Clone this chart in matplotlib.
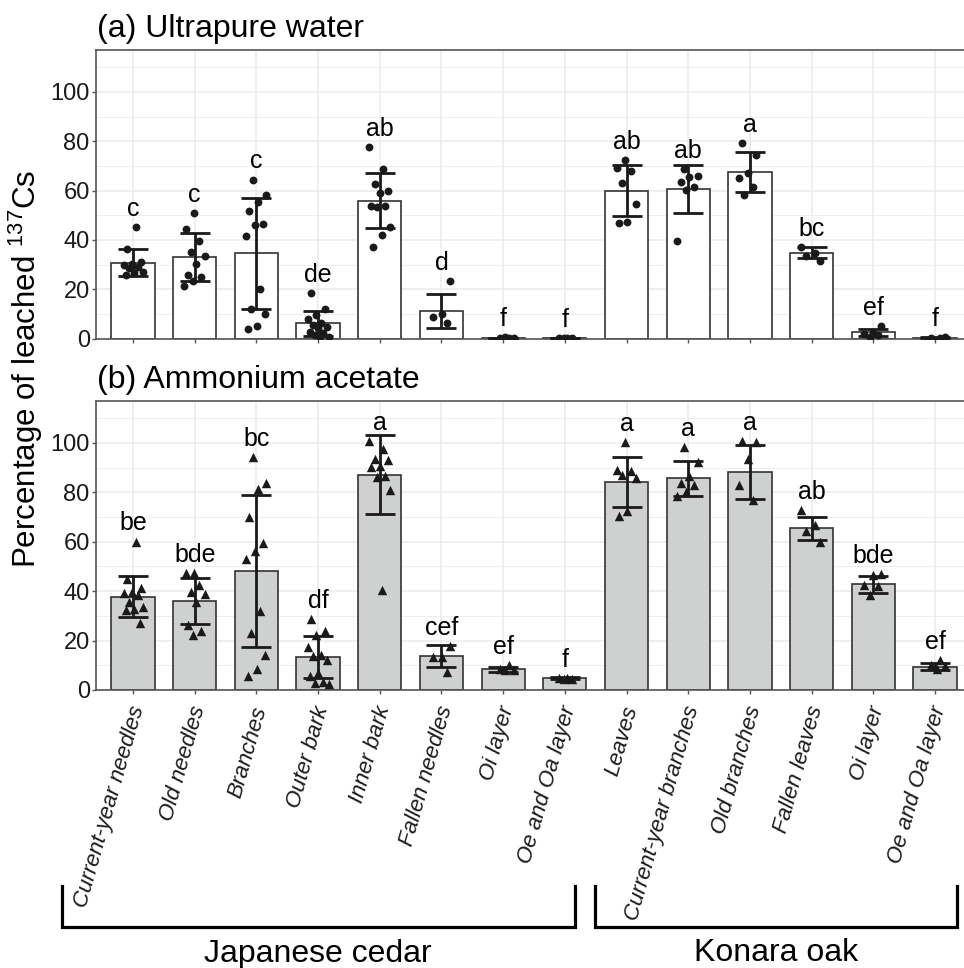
#Percentage of leached 137Cs from cedar and oak samples, two extractants
import numpy as np
import matplotlib.pyplot as plt
import matplotlib.transforms as mtransforms
from matplotlib.lines import Line2D

plt.rcParams['font.family'] = ['Liberation Sans', 'DejaVu Sans']

#sample types (first 8 Japanese cedar, last 6 Konara oak)
categories = ['Current-year needles', 'Old needles', 'Branches', 'Outer bark', 'Inner bark',
              'Fallen needles', 'Oi layer', 'Oe and Oa layer',
              'Leaves', 'Current-year branches', 'Old branches', 'Fallen leaves', 'Oi layer', 'Oe and Oa layer']

#(a) ultrapure water
water_mean = [30.8, 33.0, 34.7, 6.2, 55.9, 11.3, 0.3, 0.3, 60.0, 60.7, 67.6, 34.9, 2.6, 0.4]
water_sd = [5.5, 9.8, 22.5, 5.1, 11.2, 6.8, 0.1, 0.1, 10.3, 9.7, 8.1, 2.2, 1.5, 0.1]
water_pts = [
    [45.4, 36.2, 31.2, 30.3, 29.9, 29.2, 28.8, 27.2, 26.5, 26.0],
    [50.8, 44.6, 39.5, 35.1, 33.5, 30.3, 25.7, 24.9, 23.5, 21.5],
    [64.5, 58.1, 55.3, 51.8, 46.5, 46.0, 41.8, 20.0, 12.2, 10.0, 5.1, 4.1],
    [18.5, 11.9, 9.5, 7.9, 6.5, 5.6, 4.6, 4.2, 2.7, 2.2, 1.4, 0.8, 0.6],
    [77.6, 68.8, 62.7, 60.0, 58.9, 53.9, 53.7, 53.5, 45.4, 42.0, 37.3],
    [23.3, 10.0, 8.9, 6.2],
    [0.2, 0.3, 0.4, 0.5],
    [0.2, 0.3, 0.3, 0.4],
    [72.4, 69.3, 68.0, 63.0, 54.6, 47.4, 46.9],
    [68.7, 66.0, 65.7, 63.6, 61.6, 60.3, 39.7],
    [79.4, 74.6, 67.0, 65.0, 61.6, 58.2],
    [37.0, 34.6, 33.5, 31.6],
    [5.1, 2.4, 1.9, 1.4, 0.8],
    [0.3, 0.4, 0.5],
]
water_letters = ['c', 'c', 'c', 'de', 'ab', 'd', 'f', 'f', 'ab', 'ab', 'a', 'bc', 'ef', 'f']

#(b) ammonium acetate
acetate_mean = [37.8, 36.2, 48.2, 13.3, 87.2, 13.8, 8.4, 4.7, 84.2, 85.8, 88.2, 65.5, 42.8, 9.5]
acetate_sd = [8.4, 9.3, 30.9, 8.6, 15.9, 4.3, 1.1, 0.4, 10.3, 7.1, 10.9, 4.7, 3.4, 1.6]
acetate_pts = [
    [60.1, 44.9, 41.2, 39.8, 39.2, 38.5, 35.5, 33.8, 32.7, 32.2, 27.3],
    [47.5, 47.3, 42.6, 39.8, 39.0, 35.5, 26.3, 24.0, 22.3],
    [94.2, 83.8, 81.3, 70.0, 59.5, 56.1, 53.1, 32.0, 23.2, 14.2, 8.4, 5.7],
    [28.7, 24.0, 22.3, 17.6, 14.2, 13.8, 12.2, 6.8, 5.7, 3.4, 2.7, 2.4],
    [100.7, 97.6, 93.5, 93.1, 90.5, 90.2, 86.5, 86.2, 81.1, 40.5],
    [17.9, 13.5, 13.2, 7.4],
    [10.1, 8.4, 8.2, 8.0],
    [4.9, 4.7, 4.6, 4.5],
    [100.2, 89.2, 88.5, 87.1, 85.8, 72.3, 70.3],
    [98.2, 92.5, 86.7, 84.0, 83.1, 80.0, 78.4],
    [100.7, 100.2, 93.6, 83.1, 77.0],
    [72.8, 66.6, 64.4, 60.1],
    [46.9, 46.5, 42.6, 42.2, 38.5],
    [12.2, 10.1, 9.6, 8.4],
]
acetate_letters = ['be', 'bde', 'bc', 'df', 'a', 'cef', 'ef', 'f', 'a', 'a', 'a', 'ab', 'bde', 'ef']

W, H = 964, 968
fig = plt.figure(figsize=(W / 100, H / 100), dpi=100)

ax_a = fig.add_axes([96 / W, 1 - 338.7 / H, (972 - 96) / W, 288.7 / H])
ax_b = fig.add_axes([96 / W, 1 - 690 / H, (972 - 96) / W, 289 / H])


def draw_panel(ax, means, sds, pts, letters, fill, marker, msize, title):
    x = np.arange(len(categories))
    ax.bar(x, means, width=0.7, color=fill, edgecolor='#333333', linewidth=1.2, zorder=2)
    ax.errorbar(x, means, yerr=sds, fmt='none', ecolor='#1a1a1a', elinewidth=2,
                capsize=10.5, capthick=2, zorder=3)
    #spread points sideways with a fixed golden-ratio pattern
    for i, vals in enumerate(pts):
        n = len(vals)
        offs = [(((j + 1 + 3 * i) * 0.618034) % 1 - 0.5) * 0.36 for j in range(n)]
        ax.scatter(i + np.array(offs), vals, s=msize, marker=marker, color='#1a1a1a',
                   linewidths=0, zorder=4)
        ax.text(i, max(vals) + 4.5, letters[i], ha='center', va='baseline', fontsize=18, zorder=5)

    ax.set_xlim(-0.6, 13.6)
    ax.set_ylim(0, 117)
    ax.set_yticks(np.arange(0, 101, 20))
    ax.set_yticks(np.arange(10, 117, 20), minor=True)
    ax.set_xticks(x)
    ax.grid(which='major', color='#ebebeb', linewidth=1.1)
    ax.grid(which='minor', axis='y', color='#ebebeb', linewidth=0.6)
    ax.set_axisbelow(True)
    for sp in ax.spines.values():
        sp.set_color('#555555')
        sp.set_linewidth(1.2)
    ax.tick_params(axis='both', which='major', length=3, width=1, color='#555555',
                   labelsize=17, pad=1.5, labelcolor='#1a1a1a')
    ax.tick_params(axis='y', which='minor', length=0)
    ax.annotate(title, xy=(0, 1), xycoords='axes fraction', xytext=(1, 9.5),
                textcoords='offset points', ha='left', va='baseline', fontsize=23)


draw_panel(ax_a, water_mean, water_sd, water_pts, water_letters, 'white', 'o', 32, '(a) Ultrapure water')
draw_panel(ax_b, acetate_mean, acetate_sd, acetate_pts, acetate_letters, '#cfd0d0', '^', 46, '(b) Ammonium acetate')

ax_a.set_xticklabels([])
ax_b.set_xticklabels(categories, rotation=74, ha='right', va='center', rotation_mode='anchor',
                     fontstyle='italic', fontsize=16)
shift = mtransforms.ScaledTranslation(5 / 100, 0, fig.dpi_scale_trans)
for lab in ax_b.get_xticklabels():
    lab.set_y(-0.036)
    lab.set_transform(lab.get_transform() + shift)

fig.text(26 / W, 1 - 369 / H, r'Percentage of leached $\mathregular{^{137}}$Cs', rotation=90,
         ha='center', va='center', fontsize=22.5)

#group brackets under the x labels
def bracket(x0, x1):
    xs = [x0 / W, x0 / W, x1 / W, x1 / W]
    ys = [1 - 886 / H, 1 - 927 / H, 1 - 927 / H, 1 - 886 / H]
    fig.add_artist(Line2D(xs, ys, color='black', linewidth=2.3, solid_joinstyle='miter'))

bracket(62, 575)
bracket(595, 957)
fig.text(318 / W, 1 - 962 / H, 'Japanese cedar', ha='center', va='baseline', fontsize=23)
fig.text(776 / W, 1 - 961 / H, 'Konara oak', ha='center', va='baseline', fontsize=23)

fig.savefig('out.png', dpi=100)
